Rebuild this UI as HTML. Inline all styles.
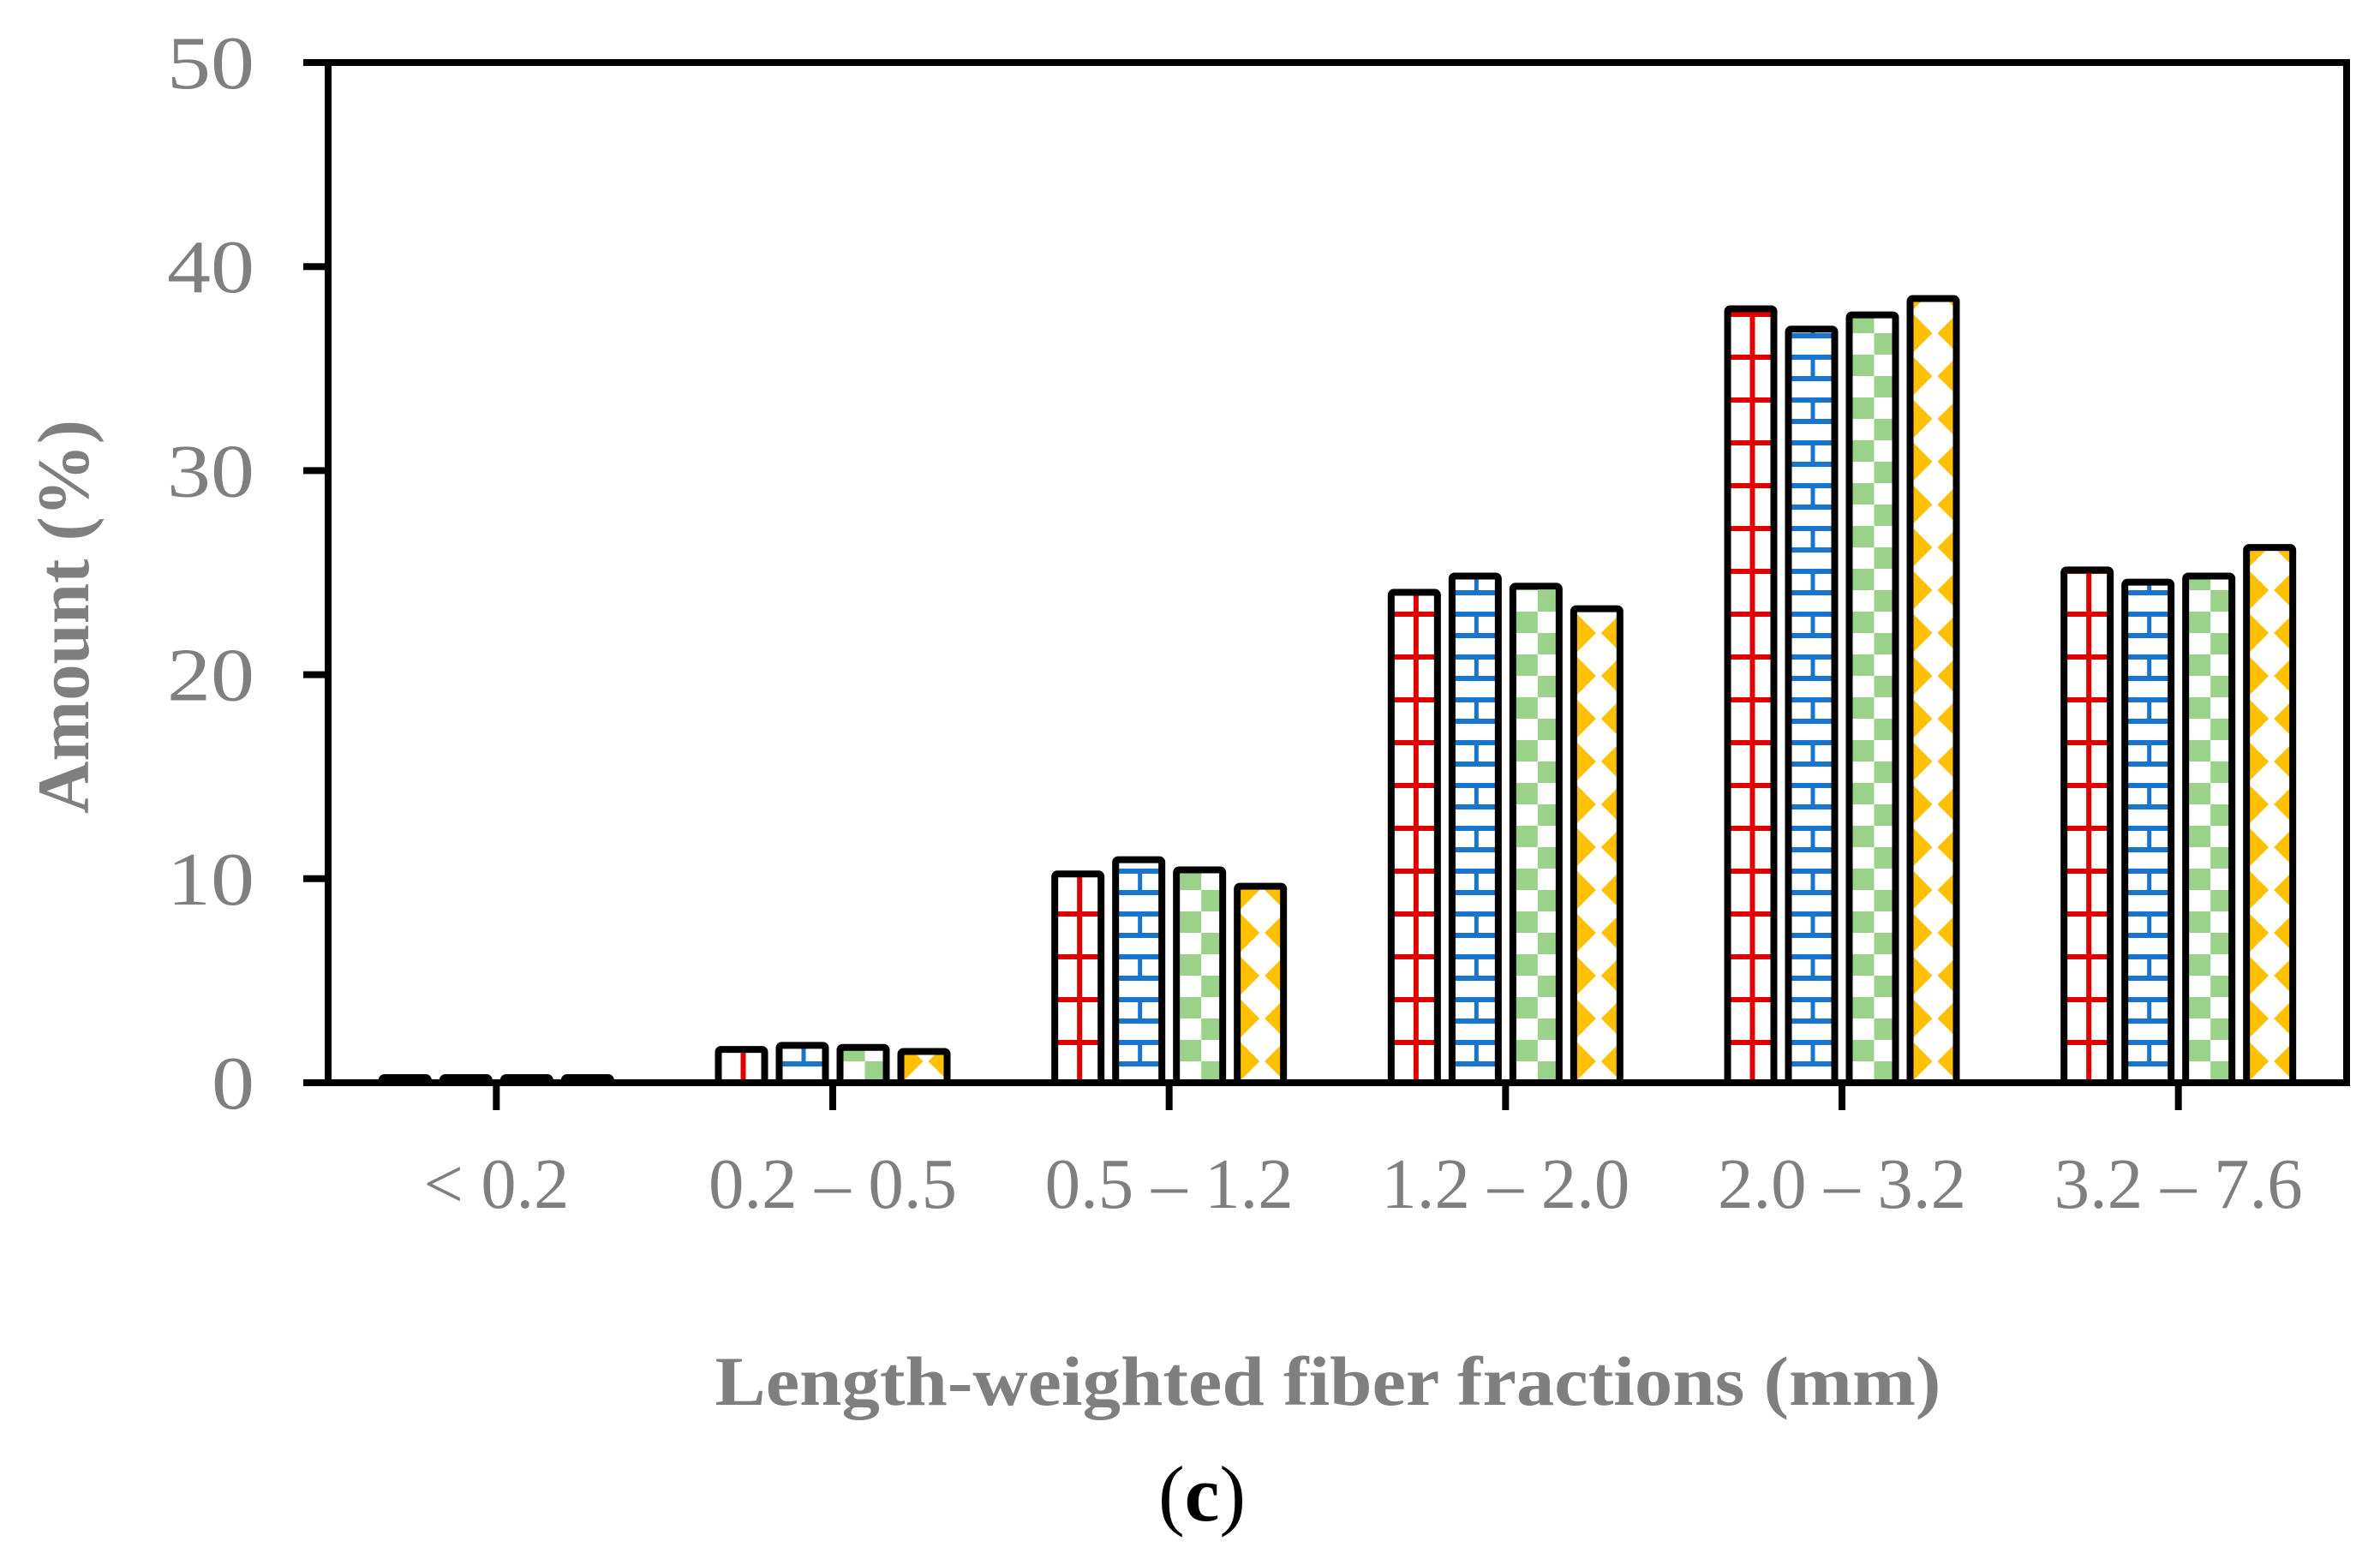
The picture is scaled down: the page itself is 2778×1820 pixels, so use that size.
<!DOCTYPE html>
<html><head><meta charset="utf-8">
<style>
html,body{margin:0;padding:0;background:#fff;}
svg{display:block;}
text{font-family:"Liberation Serif",serif;}
</style></head>
<body>
<svg id="chart" width="2778" height="1820" viewBox="0 0 2778 1820" xmlns="http://www.w3.org/2000/svg">
<defs id="defs">
  <pattern id="pat-red" patternUnits="userSpaceOnUse" width="50" height="50" x="0" y="14">
    <rect width="50" height="50" fill="#fff"/>
    <rect x="0" y="0" width="50" height="6" fill="#e00000"/>
    <rect x="22" y="0" width="6" height="50" fill="#e00000"/>
  </pattern>
  <pattern id="pat-blue" patternUnits="userSpaceOnUse" width="50" height="50" x="0" y="14">
    <rect width="50" height="50" fill="#fff"/>
    <rect x="0" y="0" width="50" height="6" fill="#1874cd"/>
    <rect x="0" y="25" width="50" height="6" fill="#1874cd"/>
    <rect x="22" y="0" width="5" height="25" fill="#1874cd"/>
    <rect x="47" y="25" width="5" height="25" fill="#1874cd"/>
  </pattern>
  <pattern id="pat-green" patternUnits="userSpaceOnUse" width="50" height="50" x="0" y="14">
    <rect width="50" height="50" fill="#fff"/>
    <rect x="0" y="0" width="25" height="25" fill="#9ad28a"/>
    <rect x="25" y="25" width="25" height="25" fill="#9ad28a"/>
  </pattern>
  <pattern id="pat-yellow" patternUnits="userSpaceOnUse" width="50" height="50" x="0" y="14">
    <rect width="50" height="50" fill="#fff"/>
    <polygon points="0,3 22,25 0,47" fill="#ffc000"/>
    <polygon points="50,3 28,25 50,47" fill="#ffc000"/>
  </pattern>
</defs>
<g id="axes"></g>
<g id="bars"></g>
<g id="labels"></g>
</svg>
<script>
const categories = ["< 0.2", "0.2 – 0.5", "0.5 – 1.2", "1.2 – 2.0", "2.0 – 3.2", "3.2 – 7.6"];
const seriesA = [0.2, 1.8, 10.4, 24.2, 38.1, 25.3];
const seriesB = [0.2, 2.0, 11.1, 25.0, 37.1, 24.7];
const seriesC = [0.2, 1.9, 10.6, 24.5, 37.8, 25.0];
const seriesD = [0.2, 1.7, 9.8, 23.4, 38.6, 26.4];
const yTicks = [0, 10, 20, 30, 40, 50];

const NS = "http://www.w3.org/2000/svg";
const X0 = 383, X1 = 2739, Y0 = 1264, Y1 = 73;
const yMax = 50;
function yScale(v){ return Y0 - (v / yMax) * (Y0 - Y1); }
const band = (X1 - X0) / categories.length;
function xCenter(i){ return X0 + band * (i + 0.5); }
function mk(tag, attrs, parent){
  const e = document.createElementNS(NS, tag);
  for (const k in attrs) e.setAttribute(k, attrs[k]);
  parent.appendChild(e);
  return e;
}
const defs = document.getElementById("defs");
const axes = document.getElementById("axes");
const barsG = document.getElementById("bars");
const labels = document.getElementById("labels");

const frame = mk("rect", {x: X0, y: Y1, width: X1 - X0, height: Y0 - Y1, fill: "none", stroke: "#000", "stroke-width": 8}, axes);



yTicks.forEach(t => {
  const y = yScale(t);
  const tk = mk("line", {x1: 354, x2: X0, y1: y, y2: y, stroke: "#000", "stroke-width": 8}, axes);
  
  
  const lb = mk("text", {x: 297, y: y + 30, "text-anchor": "end", "font-size": 88, fill: "#7f7f7f", textLength: String(t).length > 1 ? 102 : 50, lengthAdjust: "spacingAndGlyphs"}, labels);
  lb.textContent = t;
  
  
});

const series = [seriesA, seriesB, seriesC, seriesD];
const pats = ["pat-red", "pat-blue", "pat-green", "pat-yellow"];
const barW = 62, gap = 9;
const groupW = 4 * barW + 3 * gap;
let pid = 0;

categories.forEach((c, i) => {
  const cx = xCenter(i);
  const tk = mk("line", {x1: cx, x2: cx, y1: Y0, y2: 1296, stroke: "#000", "stroke-width": 8}, axes);
  
  
  const lb = mk("text", {x: cx, y: 1410, "text-anchor": "middle", "font-size": 84, fill: "#7f7f7f"}, labels);
  lb.textContent = c;
  if (c.length > 5) { lb.setAttribute("textLength", 290); lb.setAttribute("lengthAdjust", "spacingAndGlyphs"); }
  else { lb.setAttribute("textLength", 170); lb.setAttribute("lengthAdjust", "spacingAndGlyphs"); }
  
  
  series.forEach((s, j) => {
    const x = cx - groupW / 2 + j * (barW + gap);
    const p = document.getElementById(pats[j]).cloneNode(true);
    const id = "p" + (pid++);
    p.setAttribute("id", id);
    p.setAttribute("x", x + 8 - (j === 3 ? 0 : 0));
    defs.appendChild(p);
    const yt = yScale(s[i]);
    const h = Math.max(Y0 - yt, 10);
    const r = mk("rect", {x: x + 4, y: Y0 - h + 4, width: barW - 8, height: Math.max(h - 4, 2), rx: 3, fill: "url(#" + id + ")", stroke: "#000", "stroke-width": 8}, barsG);
    
    
  });
});

const xt = mk("text", {x: 1550, y: 1640, "text-anchor": "middle", "font-size": 82, "font-weight": "bold", fill: "#7f7f7f", textLength: 1431, lengthAdjust: "spacingAndGlyphs"}, labels);
xt.textContent = "Length-weighted fiber fractions (mm)";



const yt = mk("text", {x: 0, y: 0, "text-anchor": "middle", "font-size": 86, "font-weight": "bold", fill: "#7f7f7f", transform: "translate(103,720) rotate(-90)", textLength: 460, lengthAdjust: "spacingAndGlyphs"}, labels);
yt.textContent = "Amount (%)";



const cap = mk("text", {x: 1403, y: 1775, "text-anchor": "middle", "font-size": 92, fill: "#000"}, labels);
cap.innerHTML = '(<tspan font-weight="bold">c</tspan>)';


</script>
</body></html>
